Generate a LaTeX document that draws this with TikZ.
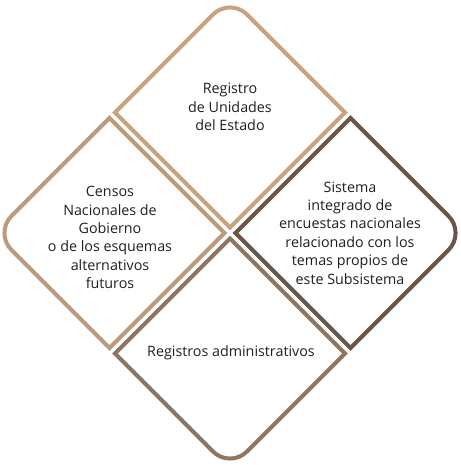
\documentclass[tikz,border=0pt]{standalone}
\usepackage{fontspec}
\setmainfont{Open Sans}
\begin{document}
\begin{tikzpicture}[x=1pt,y=1pt,
  frame/.style={line width=4pt, line join=miter},
  lbl/.style={align=center, font=\fontsize{14.3}{18.4}\selectfont, text=black!88, inner sep=0pt}]
\definecolor{ctop}{HTML}{C9A27F}
\definecolor{cleft}{HTML}{BC9A7D}
\definecolor{cright}{HTML}{6B5546}
\definecolor{cbot}{HTML}{8E7661}
\useasboundingbox (0,0) rectangle (460,465);
% diamond with the "top" vertex rounded in local coordinates
\def\dd{115}
\def\rr{24}
\pgfmathsetmacro{\tt}{\rr/sqrt(2)}
\pgfmathsetmacro{\kk}{0.552}
\newcommand{\rdiamond}[4]{%
  \begin{scope}[shift={#1}, rotate=#2]
    \draw[frame, draw=#3]
      (\dd,0) -- (0,-\dd) -- (-\dd,0) -- (-\tt,\dd-\tt)
      .. controls ({-\tt+\kk*\tt},{\dd-\tt+\kk*\tt}) and ({\tt-\kk*\tt},{\dd-\tt+\kk*\tt}) .. (\tt,\dd-\tt)
      -- cycle;
  \end{scope}}
\rdiamond{(230,352.5)}{0}{ctop}{}
\rdiamond{(109.5,232)}{90}{cleft}{}
\rdiamond{(350.5,232)}{-90}{cright}{}
\rdiamond{(230,111.5)}{180}{cbot}{}
\node[lbl] (ntop) at (230,358) {Registro\\de Unidades\\del Estado};
\node[lbl] (nleft) at (110,227.5) {Censos\\Nacionales de\\Gobierno\\o de los esquemas\\alternativos\\futuros};
\node[lbl] (nright) at (350,232) {Sistema\\integrado de\\encuestas nacionales\\relacionado con los\\temas propios de\\este Subsistema};
\node[lbl] (nbot) at (231,112) {Registros administrativos};
\end{tikzpicture}
\end{document}
